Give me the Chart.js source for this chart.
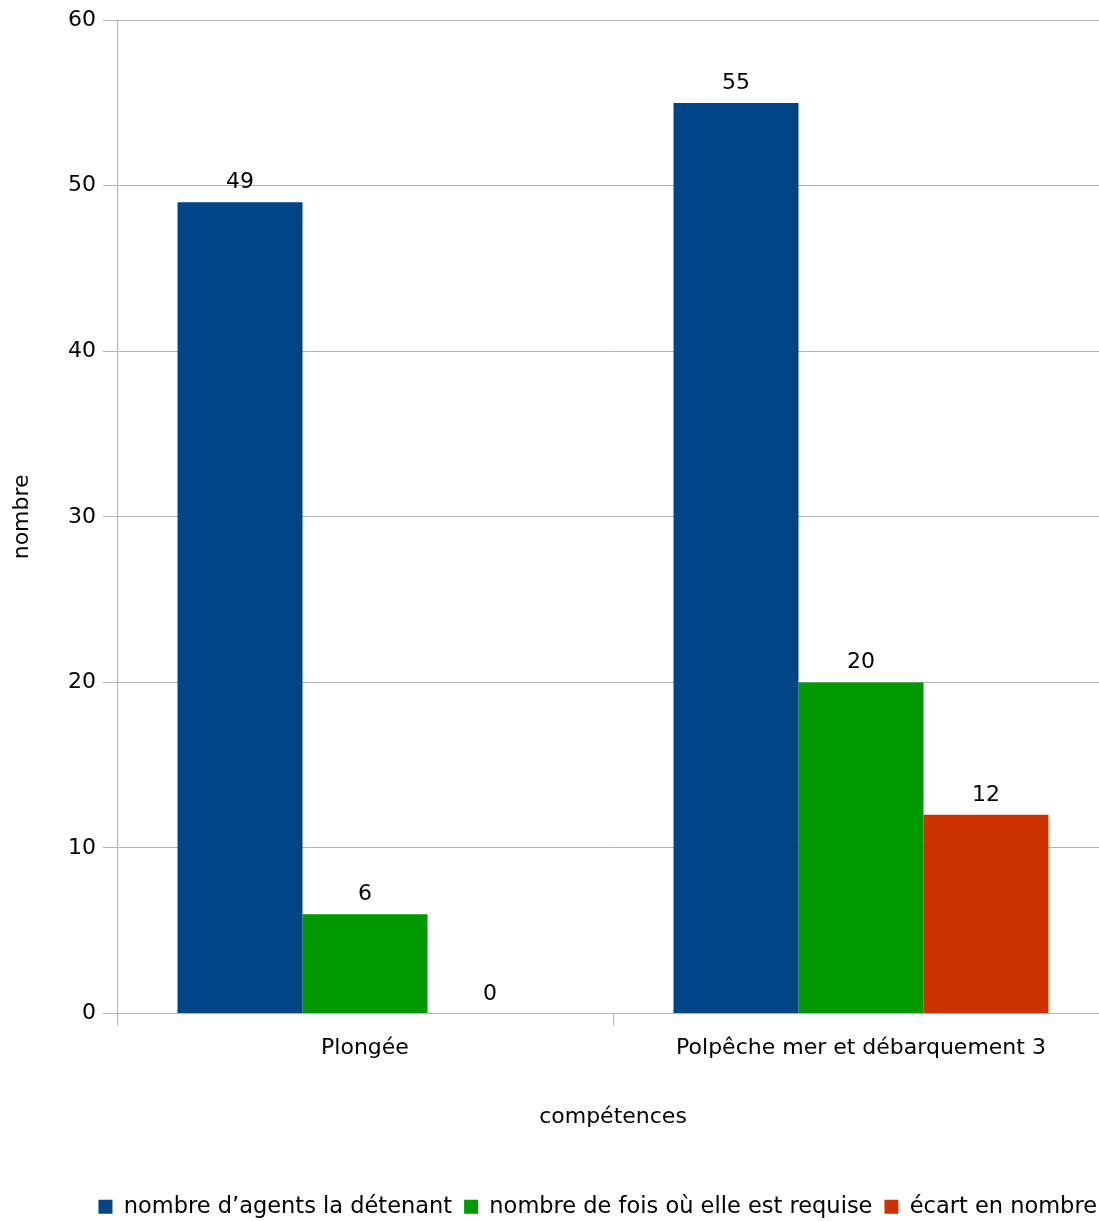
<!DOCTYPE html>
<html>
<head>
<meta charset="utf-8">
<script src="https://cdn.jsdelivr.net/npm/chart.js@4.4.1/dist/chart.umd.min.js"></script>
<style>
  html, body { margin: 0; padding: 0; background: #ffffff; overflow: hidden; }
  #wrap { position: relative; width: 1109px; height: 1228px; }
</style>
</head>
<body>
<div id="wrap"><canvas id="chart"></canvas></div>
<script>
// Compétences : agents détenteurs, besoins et écart
const categories = ['Plongée', 'Polpêche mer et débarquement 3'];
const seriesNames = [
  'nombre d’agents la détenant',
  'nombre de fois où elle est requise',
  'écart en nombre'
];
const detenant = [49, 55];
const requise = [6, 20];
const ecart = [0, 12];
const seriesColors = ['#004586', '#009900', '#cc3300'];
const yTicks = [0, 10, 20, 30, 40, 50, 60];

const FONT = 'DejaVu Sans';
const GRID = '#b3b3b3';

// Writes each bar's value above its top
const valueLabels = {
  id: 'valueLabels',
  afterDatasetsDraw(chart) {
    const ctx = chart.ctx;
    ctx.save();
    ctx.font = '22px "' + FONT + '"';
    ctx.fillStyle = '#000000';
    ctx.textAlign = 'center';
    ctx.textBaseline = 'alphabetic';
    chart.data.datasets.forEach((ds, i) => {
      const meta = chart.getDatasetMeta(i);
      meta.data.forEach((bar, j) => {
        ctx.fillText(String(ds.data[j]), bar.x, bar.y - 14);
      });
    });
    ctx.restore();
  }
};

const datasets = [detenant, requise, ecart].map((vals, i) => ({
  label: seriesNames[i],
  data: vals,
  backgroundColor: seriesColors[i],
  borderWidth: 0,
  categoryPercentage: 0.756,
  barPercentage: 1.0
}));

new Chart(document.getElementById('chart'), {
  type: 'bar',
  data: { labels: categories, datasets },
  plugins: [valueLabels],
  options: {
    responsive: true,
    maintainAspectRatio: false,
    animation: false,
    layout: { padding: { top: 19, right: 0, bottom: 0, left: 0 } },
    plugins: {
      tooltip: { enabled: false },
      legend: {
        position: 'bottom',
        align: 'end',
        labels: {
          font: { family: FONT, size: 22.5 },
          color: '#000000',
          boxWidth: 14,
          boxHeight: 14,
          padding: 12
        }
      }
    },
    scales: {
      x: {
        offset: true,
        afterFit(scale) { scale.height = 170; },
        grid: {
          drawOnChartArea: false,
          drawTicks: true,
          tickLength: 12,
          color: GRID,
          offset: true
        },
        border: { color: GRID },
        ticks: {
          font: { family: FONT, size: 22 },
          color: '#000000',
          padding: 10,
          maxRotation: 0
        },
        title: {
          display: true,
          text: 'compétences',
          font: { family: FONT, size: 22 },
          color: '#000000',
          padding: { top: 0, bottom: 53 }
        }
      },
      y: {
        min: 0,
        max: 60,
        afterFit(scale) { scale.width = 117; },
        afterBuildTicks(scale) { scale.ticks = yTicks.map(v => ({ value: v })); },
        grid: { color: GRID, tickLength: 14 },
        border: { color: GRID },
        ticks: {
          font: { family: FONT, size: 22 },
          color: '#000000',
          padding: 7
        },
        title: {
          display: true,
          text: 'nombre',
          font: { family: FONT, size: 22 },
          color: '#000000',
          padding: { top: 9, bottom: 0 }
        }
      }
    }
  }
});
</script>
</body>
</html>
